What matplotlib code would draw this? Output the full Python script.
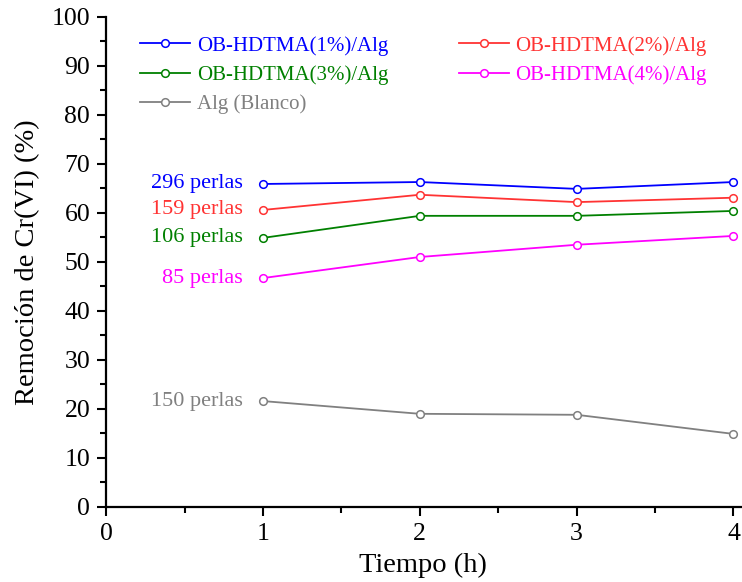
import numpy as np
import matplotlib.pyplot as plt
from matplotlib.ticker import MultipleLocator

plt.rcParams['font.family'] = ['Liberation Serif', 'DejaVu Serif']

# data
tiempo = [1, 2, 3, 4]
hd1 = [65.9, 66.3, 64.9, 66.3]
hd2 = [60.6, 63.7, 62.2, 63.1]
hd3 = [54.9, 59.4, 59.4, 60.4]
hd4 = [46.7, 51.0, 53.5, 55.3]
blanco = [21.6, 19.0, 18.8, 14.9]

names = ['OB-HDTMA(1%)/Alg', 'OB-HDTMA(2%)/Alg', 'OB-HDTMA(3%)/Alg',
         'OB-HDTMA(4%)/Alg', 'Alg (Blanco)']
perlas = ['296 perlas', '159 perlas', '106 perlas', '85 perlas', '150 perlas']
colors = ['#0000ff', '#ff3333', '#008000', '#ff00ff', '#808080']
series = [hd1, hd2, hd3, hd4, blanco]

fig = plt.figure(figsize=(7.42, 5.82), dpi=100)
ax = fig.add_axes([0.143, 0.129, 0.855, 0.842])

lines = []
for ys, c, n in zip(series, colors, names):
    l, = ax.plot(tiempo, ys, '-o', color=c, lw=1.3, ms=5.5,
                 mfc='white', mec=c, mew=1.1, label=n)
    lines.append(l)

# text labels left of first point
for ys, c, p in zip(series, colors, perlas):
    ax.annotate(p, (tiempo[0], ys[0]), xytext=(-14.5, 0), textcoords='offset points',
                ha='right', va='center', color=c, fontsize=16)

ax.set_xlim(0, 4.045)
ax.set_ylim(0, 100)
ax.xaxis.set_major_locator(MultipleLocator(1))
ax.xaxis.set_minor_locator(MultipleLocator(0.5))
ax.yaxis.set_major_locator(MultipleLocator(10))
ax.yaxis.set_minor_locator(MultipleLocator(5))
for s in ['top', 'right']:
    ax.spines[s].set_visible(False)
for s in ['left', 'bottom']:
    ax.spines[s].set_linewidth(1.6)
ax.tick_params(which='major', direction='out', length=6.5, width=1.5,
               labelsize=18.5, pad=5)
ax.tick_params(which='minor', direction='out', length=4, width=1.5)
ax.set_xlabel('Tiempo (h)', fontsize=20.5, labelpad=6)
ax.set_ylabel('Remoción de Cr(VI) (%)', fontsize=20.5, labelpad=8)

order = [0, 2, 4, 1, 3]
leg = ax.legend([lines[i] for i in order], [names[i] for i in order],
                ncol=2, loc='upper left', bbox_to_anchor=(0.041, 0.978),
                frameon=False, fontsize=15, handlelength=2.4, handletextpad=0.3,
                columnspacing=3.4, labelspacing=0.45, borderaxespad=0)
for t, i in zip(leg.get_texts(), order):
    t.set_color(colors[i])

fig.savefig('out.png', dpi=100)
